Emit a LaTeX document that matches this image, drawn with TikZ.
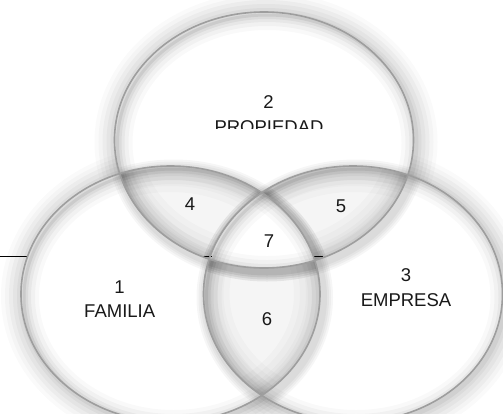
\documentclass[tikz,border=0pt]{standalone}
\usepackage{fontspec}
\setmainfont{Liberation Sans}
\newcommand\shadowring[3]{%
  \fill[black, opacity=0.035, even odd rule]
    ([shift={(3,3.5)}]#1,#2) ellipse [x radius=149.5pt+#3pt, y radius=128pt+#3pt]
    (#1,#2) ellipse [x radius=149.5pt, y radius=128pt];}
\begin{document}
\begin{tikzpicture}[x=1pt,y=-1pt,
  lbl/.style={inner sep=0pt, font=\fontsize{18.5}{22}\selectfont, text=black!90},
  rim/.style={draw=black!38, line width=1.6pt}]
\def\T{(264,140) ellipse [x radius=149.5pt, y radius=128pt]}
\def\L{(170.5,294) ellipse [x radius=149.5pt, y radius=128pt]}
\def\R{(353,294) ellipse [x radius=149.5pt, y radius=128pt]}
\useasboundingbox (0,0) rectangle (503,413);
% horizontal line behind
\draw[black, line width=0.8pt] (0,256) -- (40,256);
% outer glow
\foreach \w/\o in {44/0.02, 36/0.025, 28/0.03, 20/0.035, 12/0.04, 6/0.05} {
  \begin{scope}[shift={(2,2)}]
  \draw[line width=\w pt, black, opacity=\o] \T;
  \draw[line width=\w pt, black, opacity=\o] \L;
  \draw[line width=\w pt, black, opacity=\o] \R;
  \end{scope}
}
% white fills
\fill[white] \T; \fill[white] \L; \fill[white] \R;
% lens inner glow (grey edges, white centre)
\foreach \A/\B in {\T/\L, \T/\R, \L/\R} {
  \begin{scope}
  \clip \A; \clip \B;
  \fill[black!4] \A;
  \foreach \w/\o in {52/0.02, 40/0.02, 28/0.02, 16/0.018} {
    \draw[line width=\w pt, black, opacity=\o] \A;
    \draw[line width=\w pt, black, opacity=\o] \B;
  }
  \end{scope}
}
% centre region white
\begin{scope}\clip \T; \clip \L; \fill[white] \R; \end{scope}
% inner shadows
\foreach \E in {\T,\L,\R} {
  \begin{scope}
  \clip \E;
  \begin{scope}[shift={(3,3)}]
  \foreach \w/\o in {30/0.025, 22/0.03, 14/0.04, 8/0.05, 3/0.07} {
    \draw[line width=\w pt, black, opacity=\o] \E;
  }
  \end{scope}
  \end{scope}
}
% cast shadows of each ellipse onto the others
\foreach \cx/\cy/\ca/\cb in {264/140/\L/\R, 170.5/294/\T/\R, 353/294/\T/\L} {
  \foreach \C in {\ca,\cb} {
    \begin{scope}
    \clip \C;
    \foreach \k in {4,6,8,10} { \shadowring{\cx}{\cy}{\k} }
    \end{scope}
  }
}
% small line slivers
\draw[black, line width=0.8pt] (203,256) -- (212,256);
\draw[black, line width=0.8pt] (313,256) -- (323,256);
% rims
\draw[rim] \T; \draw[rim] \L; \draw[rim] \R;
% labels
\node[lbl] (n2) at (268.5,102.5) {2};
\begin{scope}
\clip (150,110) rectangle (400,128.5);
\node[lbl] (prop) at (269,127.5) {PROPIEDAD};
\end{scope}
\node[lbl] (n1) at (119.5,287) {1};
\node[lbl] (fam) at (119.7,311.5) {FAMILIA};
\node[lbl] (n3) at (406,275.5) {3};
\node[lbl] (emp) at (406,300) {EMPRESA};
\node[lbl] (n4) at (190,204) {4};
\node[lbl] (n5) at (341,206.5) {5};
\node[lbl] (n7) at (269,241.5) {7};
\node[lbl] (n6) at (267,319) {6};
\end{tikzpicture}
\end{document}
